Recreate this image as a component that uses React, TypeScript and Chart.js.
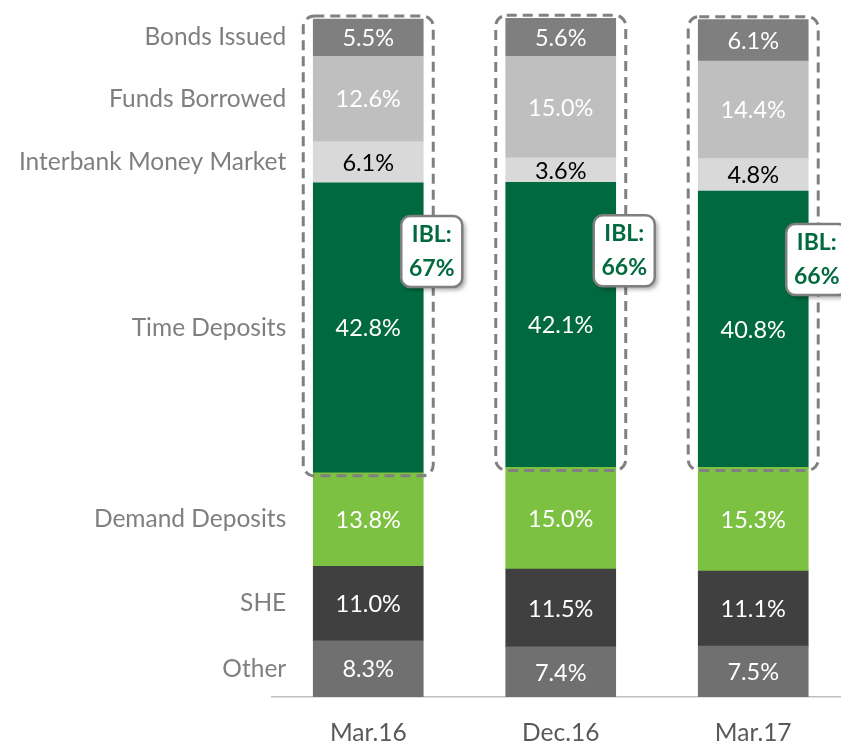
import React, { useEffect, useRef } from 'react';
import { Chart, registerables } from 'chart.js';

Chart.register(...registerables);

// ---- data ----
const categories = ['Mar.16', 'Dec.16', 'Mar.17'];
const segmentNames = ['Other', 'SHE', 'Demand Deposits', 'Time Deposits', 'Interbank Money Market', 'Funds Borrowed', 'Bonds Issued'];
const other = [8.3, 7.4, 7.5];
const she = [11.0, 11.5, 11.1];
const demandDeposits = [13.8, 15.0, 15.3];
const timeDeposits = [42.8, 42.1, 40.8];
const interbank = [6.1, 3.6, 4.8];
const fundsBorrowed = [12.6, 15.0, 14.4];
const bondsIssued = [5.5, 5.6, 6.1];
const iblTitle = 'IBL:';

const seriesValues = [other, she, demandDeposits, timeDeposits, interbank, fundsBorrowed, bondsIssued];
// interest bearing liabilities = time deposits + interbank + funds borrowed + bonds issued
const iblSeries = [3, 4, 5, 6];

// ---- styles ----
const fillColors = ['#707070', '#404040', '#7cc142', '#006a3e', '#d9d9d9', '#bfbfbf', '#7f7f7f'];
const textColors = ['#ffffff', '#ffffff', '#ffffff', '#ffffff', '#000000', '#ffffff', '#ffffff'];
const FONT = 'Lato, "Open Sans", sans-serif';

function roundRect(ctx: CanvasRenderingContext2D, x: number, y: number, w: number, h: number, r: number) {
  ctx.beginPath();
  ctx.moveTo(x + r, y);
  ctx.lineTo(x + w - r, y);
  ctx.arcTo(x + w, y, x + w, y + r, r);
  ctx.lineTo(x + w, y + h - r);
  ctx.arcTo(x + w, y + h, x + w - r, y + h, r);
  ctx.lineTo(x + r, y + h);
  ctx.arcTo(x, y + h, x, y + h - r, r);
  ctx.lineTo(x, y + r);
  ctx.arcTo(x, y, x + r, y, r);
  ctx.closePath();
}

const overlayPlugin = {
  id: 'overlay',
  afterDatasetsDraw(chart: any) {
    const ctx: CanvasRenderingContext2D = chart.ctx;
    const metas = seriesValues.map((_, i) => chart.getDatasetMeta(i));
    ctx.save();

    // dashed IBL boxes
    const topIdx = iblSeries[iblSeries.length - 1];
    const botIdx = iblSeries[0];
    categories.forEach((_, j) => {
      const topEl = metas[topIdx].data[j];
      const botEl = metas[botIdx].data[j];
      const left = topEl.x - topEl.width / 2 - 10;
      const right = topEl.x + topEl.width / 2 + 10;
      const top = topEl.y - 3;
      const bottom = botEl.base + 3;
      ctx.save();
      ctx.setLineDash([10, 6]);
      ctx.lineWidth = 3;
      ctx.strokeStyle = '#808080';
      roundRect(ctx, left, top, right - left, bottom - top, 11);
      ctx.stroke();
      ctx.restore();
    });

    // value labels in segments
    ctx.font = `23.5px ${FONT}`;
    ctx.textAlign = 'center';
    ctx.textBaseline = 'middle';
    metas.forEach((m: any, di: number) => {
      m.data.forEach((el: any, j: number) => {
        ctx.fillStyle = textColors[di];
        ctx.fillText(seriesValues[di][j].toFixed(1) + '%', el.x, (el.y + el.base) / 2 + 1);
      });
    });

    // segment names on the left of the first bar
    ctx.font = `24.5px ${FONT}`;
    ctx.textAlign = 'right';
    ctx.fillStyle = '#7f7f7f';
    metas.forEach((m: any, di: number) => {
      const el = m.data[0];
      ctx.fillText(segmentNames[di], el.x - el.width / 2 - 27, (el.y + el.base) / 2);
    });

    // IBL callouts
    categories.forEach((_, j) => {
      const timeEl = metas[botIdx].data[j];
      const total = iblSeries.reduce((s, k) => s + seriesValues[k][j], 0);
      const bx = timeEl.x + 33;
      const by = timeEl.y + 33;
      const bw = 61;
      const bh = 71;
      ctx.save();
      ctx.shadowColor = 'rgba(0,0,0,0.35)';
      ctx.shadowBlur = 4;
      ctx.shadowOffsetX = 3;
      ctx.shadowOffsetY = 3;
      roundRect(ctx, bx, by, bw, bh, 9);
      ctx.fillStyle = '#ffffff';
      ctx.fill();
      ctx.restore();
      ctx.save();
      roundRect(ctx, bx, by, bw, bh, 9);
      ctx.lineWidth = 2.5;
      ctx.strokeStyle = '#7f7f7f';
      ctx.stroke();
      ctx.fillStyle = '#006a3e';
      ctx.font = `bold 23px ${FONT}`;
      ctx.textAlign = 'center';
      ctx.textBaseline = 'middle';
      ctx.fillText(iblTitle, bx + bw / 2, by + bh / 2 - 17);
      ctx.fillText(Math.round(total) + '%', bx + bw / 2, by + bh / 2 + 17);
      ctx.restore();
    });

    ctx.restore();
  },
};

export default function App() {
  const canvasRef = useRef<HTMLCanvasElement | null>(null);

  useEffect(() => {
    if (!canvasRef.current) return;
    const chart = new Chart(canvasRef.current, {
      type: 'bar',
      data: {
        datasets: seriesValues.map((vals, i) => ({
          label: segmentNames[i],
          data: vals.map((v, j) => ({ x: j, y: v })),
          backgroundColor: fillColors[i],
          borderWidth: 0,
          barThickness: 110,
        })),
      },
      options: {
        animation: false,
        responsive: false,
        devicePixelRatio: 1,
        layout: { padding: { left: 272, right: 0, top: 0, bottom: 0 } },
        plugins: { legend: { display: false }, tooltip: { enabled: false } },
        scales: {
          x: {
            type: 'linear',
            stacked: true,
            offset: false,
            min: -0.5,
            max: 2.456,
            afterBuildTicks: (s: any) => {
              s.ticks = categories.map((_, i) => ({ value: i }));
            },
            afterFit: (s: any) => {
              s.height = 44;
            },
            ticks: {
              callback: (v: any) => categories[v] ?? '',
              color: '#595959',
              font: { family: FONT, size: 24.5 },
              padding: 21,
              autoSkip: false,
              maxRotation: 0,
            },
            grid: { display: false, drawTicks: false },
            border: { display: true, color: '#bfbfbf', width: 1.5 },
          },
          y: {
            stacked: true,
            display: false,
            min: 0,
            max: 102.9,
          },
        },
      },
      plugins: [overlayPlugin],
    } as any);
    return () => chart.destroy();
  }, []);

  return (
    <div style={{ position: 'absolute', left: 0, top: 0, width: 841, height: 741, background: '#ffffff' }}>
      <canvas ref={canvasRef} width={841} height={741} style={{ display: 'block' }} />
    </div>
  );
}
